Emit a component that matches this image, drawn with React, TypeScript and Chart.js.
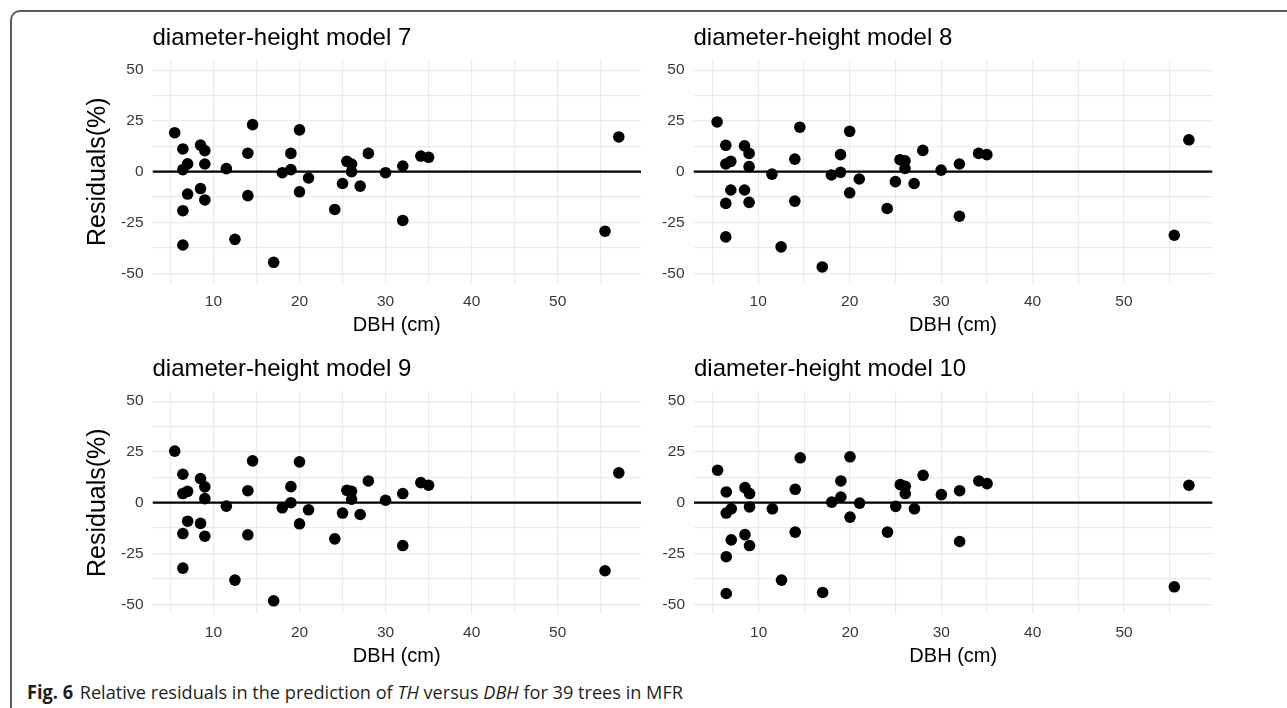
import React, { useEffect, useRef } from 'react';
import { Chart, registerables } from 'chart.js';

Chart.register(...registerables);

// ---- Data ----
const DBH = [5.5, 6.45, 6.45, 7.0, 7.0, 6.45, 6.45, 8.5, 9.0, 9.0, 8.5, 9.0, 11.5, 12.5, 14.0, 14.0, 14.55, 17.0, 18.0, 19.0, 19.0, 20.0, 20.0, 21.05, 24.1, 25.0, 25.5, 26.05, 26.05, 27.05, 28.0, 30.0, 32.0, 32.0, 34.1, 35.0, 55.5, 57.1];

const RES_MODEL_7 = [19.2, 11.2, 1.0, 3.9, -11.0, -19.2, -36.1, 13.1, 10.4, 3.8, -8.3, -13.9, 1.5, -33.3, 9.1, -11.8, 23.2, -44.6, -0.5, 9.0, 1.0, 20.6, -9.9, -3.1, -18.6, -5.8, 5.1, 3.8, 0.0, -7.1, 9.0, -0.5, 2.8, -24.0, 7.7, 7.1, -29.3, 17.1];
const RES_MODEL_8 = [24.5, 13.0, 3.8, 5.1, -9.0, -15.6, -32.1, 12.7, 9.0, 2.5, -9.0, -15.1, -1.2, -37.0, 6.2, -14.5, 21.9, -46.9, -1.6, 8.4, -0.3, 19.9, -10.4, -3.6, -18.1, -4.9, 5.9, 5.4, 1.6, -5.8, 10.5, 0.8, 3.8, -21.9, 9.0, 8.4, -31.3, 15.7];
const RES_MODEL_9 = [25.4, 14.0, 4.5, 5.6, -9.1, -15.2, -32.2, 11.9, 7.8, 2.0, -10.2, -16.5, -1.7, -38.1, 5.9, -15.8, 20.6, -48.3, -2.5, 7.9, 0.0, 20.1, -10.4, -3.5, -17.8, -5.1, 6.1, 5.6, 1.7, -5.8, 10.7, 1.2, 4.5, -21.1, 9.9, 8.6, -33.5, 14.7];
const RES_MODEL_10 = [16.0, 5.3, -5.1, -3.0, -18.3, -26.6, -44.7, 7.4, 4.5, -2.1, -15.7, -21.1, -3.0, -38.1, 6.6, -14.5, 22.1, -44.2, 0.3, 10.7, 2.8, 22.6, -7.1, -0.2, -14.5, -1.8, 8.9, 8.1, 4.5, -3.0, 13.5, 4.0, 5.9, -19.1, 10.7, 9.4, -41.4, 8.6];

const PANEL_TITLES = ['diameter-height model 7', 'diameter-height model 8', 'diameter-height model 9', 'diameter-height model 10'];

const X_GRID = [5, 10, 15, 20, 25, 30, 35, 40, 45, 50, 55];
const X_TICK_VALUES = [10, 20, 30, 40, 50];
const X_TICK_LABELS = ['10', '20', '30', '40', '50'];
const Y_GRID = [-50, -37.5, -25, -12.5, 0, 12.5, 25, 37.5, 50];
const Y_TICK_VALUES = [-50, -25, 0, 25, 50];
const Y_TICK_LABELS = ['-50', '-25', '0', '25', '50'];
const Y_LIMITS = [-50, 50];
const REF_LINE = 0;

const X_TITLE = 'DBH (cm)';
const Y_TITLE = 'Residuals(%)';
const CAPTION_BOLD = 'Fig. 6';
const CAPTION_PARTS: { text: string; italic: boolean }[] = [
  { text: 'Relative residuals in the prediction of ', italic: false },
  { text: 'TH', italic: true },
  { text: ' versus ', italic: false },
  { text: 'DBH', italic: true },
  { text: ' for 39 trees in MFR', italic: false },
];

const FONT = '"Liberation Sans", Arial, Helvetica, sans-serif';

type PanelSpec = {
  title: string;
  values: number[];
  left: number;
  top: number;
  width: number;
  height: number;
  padding: { left: number; right: number; top: number; bottom: number };
  yWidth: number;
  showYTitle: boolean;
};

function Panel({ spec }: { spec: PanelSpec }) {
  const ref = useRef<HTMLCanvasElement | null>(null);
  useEffect(() => {
    if (!ref.current) return;
    const xMin = Math.min(...DBH);
    const xMax = Math.max(...DBH);
    const xr = xMax - xMin;
    const xLo = xMin - 0.05 * xr;
    const xHi = xMax + 0.05 * xr;
    const yr = Y_LIMITS[1] - Y_LIMITS[0];
    const yLo = Y_LIMITS[0] - 0.05 * yr;
    const yHi = Y_LIMITS[1] + 0.05 * yr;

    const chart = new Chart(ref.current, {
      type: 'scatter',
      data: {
        datasets: [
          {
            type: 'scatter',
            data: DBH.map((x, i) => ({ x, y: spec.values[i] })),
            backgroundColor: '#000',
            borderColor: '#000',
            pointRadius: 5.8,
            pointBorderWidth: 0,
            order: 0,
          },
          {
            type: 'line',
            data: [
              { x: xLo, y: REF_LINE },
              { x: xHi, y: REF_LINE },
            ],
            borderColor: '#000',
            borderWidth: 2.3,
            pointRadius: 0,
            fill: false,
            order: 1,
          },
        ],
      } as any,
      options: {
        responsive: false,
        animation: false,
        layout: { padding: spec.padding },
        plugins: {
          legend: { display: false },
          tooltip: { enabled: false },
          title: {
            display: true,
            text: spec.title,
            align: 'start',
            fullSize: false,
            color: '#000',
            font: { family: FONT, size: 24, weight: 'normal' },
            padding: { top: 3.6, bottom: 7.6 },
          },
        },
        scales: {
          x: {
            type: 'linear',
            min: xLo,
            max: xHi,
            border: { display: false },
            grid: { color: '#ebebeb', lineWidth: 1.2, drawTicks: false },
            afterBuildTicks: (s: any) => {
              s.ticks = X_GRID.map((v) => ({ value: v }));
            },
            afterFit: (s: any) => {
              s.height = 53.6;
            },
            ticks: {
              autoSkip: false,
              maxRotation: 0,
              padding: 9,
              color: '#383838',
              font: { family: FONT, size: 15.5 },
              callback: (v: any) => {
                const i = X_TICK_VALUES.indexOf(Number(v));
                return i >= 0 ? X_TICK_LABELS[i] : '';
              },
            },
            title: {
              display: true,
              text: X_TITLE,
              color: '#000',
              font: { family: FONT, size: 20 },
              padding: { top: 0, bottom: 0 },
            },
          },
          y: {
            type: 'linear',
            min: yLo,
            max: yHi,
            border: { display: false },
            grid: { color: '#ebebeb', lineWidth: 1.2, drawTicks: false },
            afterBuildTicks: (s: any) => {
              s.ticks = Y_GRID.map((v) => ({ value: v }));
            },
            afterFit: (s: any) => {
              s.width = spec.yWidth;
            },
            ticks: {
              autoSkip: false,
              padding: 9,
              color: '#383838',
              font: { family: FONT, size: 15.5 },
              callback: (v: any) => {
                const i = Y_TICK_VALUES.indexOf(Number(v));
                return i >= 0 ? Y_TICK_LABELS[i] : '';
              },
            },
            title: {
              display: spec.showYTitle,
              text: Y_TITLE,
              color: '#000',
              font: { family: FONT, size: 25 },
              padding: { top: 3.4, bottom: 0 },
            },
          },
        },
      } as any,
    });
    return () => chart.destroy();
  }, [spec]);

  return (
    <canvas
      ref={ref}
      width={spec.width}
      height={spec.height}
      style={{
        position: 'absolute',
        left: spec.left,
        top: spec.top,
        width: spec.width,
        height: spec.height,
      }}
    />
  );
}

const PANELS: PanelSpec[] = [
  {
    title: PANEL_TITLES[0],
    values: RES_MODEL_7,
    left: 0,
    top: 0,
    width: 650,
    height: 340,
    padding: { left: 80, right: 9, top: 20, bottom: 3 },
    yWidth: 72.5,
    showYTitle: true,
  },
  {
    title: PANEL_TITLES[1],
    values: RES_MODEL_8,
    left: 650,
    top: 0,
    width: 637,
    height: 340,
    padding: { left: 0, right: 74.5, top: 20, bottom: 3 },
    yWidth: 43.5,
    showYTitle: false,
  },
  {
    title: PANEL_TITLES[2],
    values: RES_MODEL_9,
    left: 0,
    top: 331,
    width: 650,
    height: 340,
    padding: { left: 80, right: 9, top: 20, bottom: 3 },
    yWidth: 72.5,
    showYTitle: true,
  },
  {
    title: PANEL_TITLES[3],
    values: RES_MODEL_10,
    left: 650,
    top: 331,
    width: 637,
    height: 340,
    padding: { left: 0, right: 74.5, top: 20, bottom: 3 },
    yWidth: 44,
    showYTitle: false,
  },
];

export default function App() {
  return (
    <div
      style={{
        position: 'absolute',
        left: 0,
        top: 0,
        width: 1287,
        height: 708,
        overflow: 'hidden',
        background: '#fff',
      }}
    >
      <div
        style={{
          position: 'absolute',
          left: 9.5,
          top: 9.7,
          width: 1400,
          height: 800,
          borderTop: '2px solid #5a5a5a',
          borderLeft: '2px solid #5a5a5a',
          borderTopLeftRadius: 10,
          boxSizing: 'border-box',
        }}
      />
      {PANELS.map((p, i) => (
        <Panel key={i} spec={p} />
      ))}
      <div
        style={{
          position: 'absolute',
          left: 26.7,
          top: 681,
          height: 22,
          lineHeight: '22px',
          whiteSpace: 'nowrap',
          fontFamily: '"Open Sans", "Noto Sans", sans-serif',
          fontSize: 19,
          color: '#231f20',
          transform: 'scaleX(0.955)',
          transformOrigin: 'left center',
        }}
      >
        <span style={{ fontWeight: 700 }}>{CAPTION_BOLD}</span>
        <span style={{ marginLeft: 7 }}>
          {CAPTION_PARTS.map((p, i) =>
            p.italic ? (
              <i key={i}>{p.text}</i>
            ) : (
              <React.Fragment key={i}>{p.text}</React.Fragment>
            )
          )}
        </span>
      </div>
    </div>
  );
}
